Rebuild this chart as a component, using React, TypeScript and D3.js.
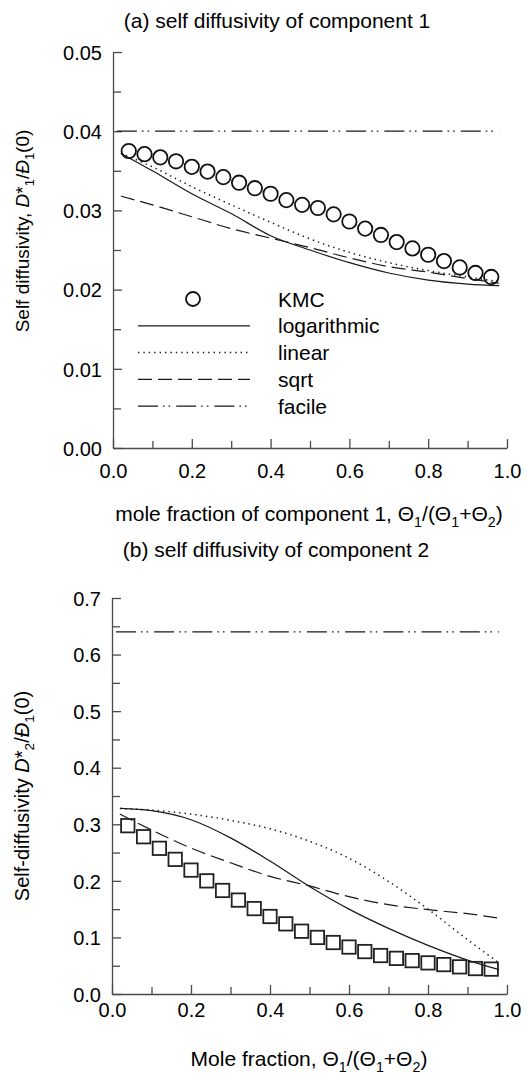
import React, { useRef, useEffect } from 'react'
import { select, scaleLinear, line, curveMonotoneX, axisLeft, axisBottom, format } from 'd3'

// KMC sample positions (mole fraction of component 1)
const kmcX = [0.04, 0.08, 0.12, 0.16, 0.2, 0.24, 0.28, 0.32, 0.36, 0.4, 0.44, 0.48,
  0.52, 0.56, 0.6, 0.64, 0.68, 0.72, 0.76, 0.8, 0.84, 0.88, 0.92, 0.96]
// model curves are read at these x values
const curveX = [0.02, 0.1, 0.2, 0.3, 0.4, 0.5, 0.6, 0.7, 0.8, 0.9, 0.98]
const facileX = [0.01, 0.98]

// (a) component 1
const kmc1 = [0.0375, 0.0371, 0.0367, 0.0362, 0.0355, 0.0349, 0.0342, 0.0335, 0.0328, 0.0321, 0.0313, 0.0307,
  0.0303, 0.0295, 0.0286, 0.0277, 0.0269, 0.0260, 0.0252, 0.0244, 0.0236, 0.0228, 0.0221, 0.0216]
const log1 = [0.0372, 0.0350, 0.0321, 0.0296, 0.0268, 0.0250, 0.0234, 0.0221, 0.0212, 0.0207, 0.0205]
const lin1 = [0.0372, 0.0355, 0.0330, 0.0307, 0.0285, 0.0264, 0.0247, 0.0234, 0.0224, 0.0216, 0.0210]
const sqrt1 = [0.0318, 0.0307, 0.0292, 0.0277, 0.0265, 0.0253, 0.0240, 0.0229, 0.0222, 0.0214, 0.0208]
const facile1 = 0.04

// (b) component 2
const kmc2 = [0.2975, 0.278, 0.2575, 0.238, 0.219, 0.200, 0.183, 0.166, 0.151, 0.137, 0.124, 0.111,
  0.100, 0.091, 0.083, 0.075, 0.068, 0.063, 0.059, 0.055, 0.052, 0.048, 0.045, 0.044]
const log2 = [0.328, 0.324, 0.308, 0.276, 0.235, 0.190, 0.150, 0.116, 0.086, 0.060, 0.043]
const lin2 = [0.328, 0.325, 0.318, 0.307, 0.292, 0.270, 0.240, 0.199, 0.150, 0.096, 0.055]
const sqrt2 = [0.318, 0.290, 0.258, 0.232, 0.208, 0.191, 0.172, 0.158, 0.149, 0.142, 0.134]
const facile2 = 0.64

// ticks
const xMajor = [0, 0.2, 0.4, 0.6, 0.8, 1.0]
const xMinor = [0.1, 0.3, 0.5, 0.7, 0.9]
const yMajor1 = [0, 0.01, 0.02, 0.03, 0.04, 0.05]
const yMinor1 = [0.005, 0.015, 0.025, 0.035, 0.045]
const yMajor2 = [0, 0.1, 0.2, 0.3, 0.4, 0.5, 0.6, 0.7]
const yMinor2 = [0.05, 0.15, 0.25, 0.35, 0.45, 0.55, 0.65]

const legendNames = ['KMC', 'logarithmic', 'linear', 'sqrt', 'facile']

const FONT = "'Liberation Sans', Arial, Helvetica, sans-serif"
const INK = '#1a1a1a'
const AXIS = '#4a4a4a'
const DOT = '1.4,4'
const DASH = '14,6'
const DASHDOT = '20,5,1.6,4,1.6,6'

const App = () => {
  const svgRef = useRef(null)

  useEffect(() => {
    const svg = select(svgRef.current)
    svg.selectAll('*').remove()

    // text with italic / subscript pieces
    const rich = (text, parts, fs) => {
      let shift = 0
      parts.forEach(p => {
        const target = p.sub ? fs * 0.27 : 0
        const ts = text.append('tspan').text(p.t).attr('dy', target - shift)
        shift = target
        if (p.sub) ts.attr('font-size', fs * 0.68)
        if (p.it) ts.attr('font-style', 'italic')
      })
    }

    const panels = [
      {
        x0: 113, x1: 507, yTop: 52, yBot: 448, yMax: 0.05, fmt: '.2f',
        yMajor: yMajor1, yMinor: yMinor1, xPad: 16,
        kmc: kmc1, marker: 'circle', log: log1, lin: lin1, sqrt: sqrt1, facile: facile1,
        title: '(a) self diffusivity of component 1', titleX: 277, titleY: 27.5,
        xlab: [{ t: 'mole fraction of component 1, Θ' }, { t: '1', sub: true }, { t: '/(Θ' }, { t: '1', sub: true }, { t: '+Θ' }, { t: '2', sub: true }, { t: ')' }],
        xlabY: 521,
        ylab: [{ t: 'Self diffusivity, ' }, { t: 'D', it: true }, { t: '*' }, { t: '1', sub: true }, { t: '/' }, { t: 'Ð', it: true }, { t: '1', sub: true }, { t: '(0)' }],
        ylabY: 231, ylabFs: 19,
        legend: true
      },
      {
        x0: 112, x1: 507, yTop: 598, yBot: 994, yMax: 0.7, fmt: '.1f',
        yMajor: yMajor2, yMinor: yMinor2, xPad: 9,
        kmc: kmc2, marker: 'square', log: log2, lin: lin2, sqrt: sqrt2, facile: facile2,
        title: '(b) self diffusivity of component 2', titleX: 276, titleY: 557,
        xlab: [{ t: 'Mole fraction, Θ' }, { t: '1', sub: true }, { t: '/(Θ' }, { t: '1', sub: true }, { t: '+Θ' }, { t: '2', sub: true }, { t: ')' }],
        xlabY: 1066,
        ylab: [{ t: 'Self-diffusivity ' }, { t: 'D', it: true }, { t: '*' }, { t: '2', sub: true }, { t: '/' }, { t: 'Ð', it: true }, { t: '1', sub: true }, { t: '(0)' }],
        ylabY: 796, ylabFs: 20,
        legend: false
      }
    ]

    panels.forEach(p => {
      const xScale = scaleLinear().domain([0, 1]).range([p.x0, p.x1])
      const yScale = scaleLinear().domain([0, p.yMax]).range([p.yBot, p.yTop])
      const g = svg.append('g')

      // axes, ticks pointing inward
      const yAx = g.append('g').attr('transform', `translate(${p.x0},0)`)
      yAx.call(axisLeft(yScale).tickValues(p.yMajor).tickSize(-9).tickSizeOuter(0).tickPadding(11).tickFormat(format(p.fmt)))
      const yMin = g.append('g').attr('transform', `translate(${p.x0},0)`)
      yMin.call(axisLeft(yScale).tickValues(p.yMinor).tickSize(-8).tickSizeOuter(0).tickFormat(() => ''))
      yMin.select('.domain').remove()

      const xAx = g.append('g').attr('transform', `translate(0,${p.yBot})`)
      xAx.call(axisBottom(xScale).tickValues(xMajor).tickSize(-9).tickSizeOuter(0).tickPadding(p.xPad).tickFormat(format('.1f')))
      const xMin = g.append('g').attr('transform', `translate(0,${p.yBot})`)
      xMin.call(axisBottom(xScale).tickValues(xMinor).tickSize(-7).tickSizeOuter(0).tickFormat(() => ''))
      xMin.select('.domain').remove()

      g.selectAll('.domain').attr('stroke', AXIS).attr('stroke-width', 1.3)
      g.selectAll('.tick line').attr('stroke', AXIS).attr('stroke-width', 1.3)
      g.selectAll('.tick text').attr('fill', '#000').attr('font-size', 20).attr('font-family', FONT)
      yAx.selectAll('.tick text').attr('dy', '0.36em')

      // model curves
      const curve = line()
        .x((d, i) => xScale(curveX[i]))
        .y(d => yScale(d))
        .curve(curveMonotoneX)

      const series = [
        { v: p.log, dash: null, w: 1.2 },
        { v: p.lin, dash: DOT, w: 1.5 },
        { v: p.sqrt, dash: DASH, w: 1.2 }
      ]
      series.forEach(s => {
        g.append('path')
          .attr('d', curve(s.v))
          .attr('fill', 'none')
          .attr('stroke', INK)
          .attr('stroke-width', s.w)
          .attr('stroke-dasharray', s.dash)
      })

      g.append('line')
        .attr('x1', xScale(facileX[0])).attr('x2', xScale(facileX[1]))
        .attr('y1', yScale(p.facile)).attr('y2', yScale(p.facile))
        .attr('stroke', INK).attr('stroke-width', 1.2)
        .attr('stroke-dasharray', DASHDOT)

      // KMC markers
      if (p.marker === 'circle') {
        g.selectAll('.kmc').data(p.kmc).join('circle')
          .attr('class', 'kmc')
          .attr('cx', (d, i) => xScale(kmcX[i]))
          .attr('cy', d => yScale(d))
          .attr('r', 7.2)
          .attr('fill', 'none')
          .attr('stroke', '#111')
          .attr('stroke-width', 1.8)
      } else {
        g.selectAll('.kmc').data(p.kmc).join('rect')
          .attr('class', 'kmc')
          .attr('x', (d, i) => xScale(kmcX[i]) - 6.7)
          .attr('y', d => yScale(d) - 6.7)
          .attr('width', 13.4)
          .attr('height', 13.4)
          .attr('fill', 'none')
          .attr('stroke', '#222')
          .attr('stroke-width', 1.8)
      }

      // legend
      if (p.legend) {
        const styles = [null, { dash: null, w: 1.2 }, { dash: DOT, w: 1.5 }, { dash: DASH, w: 1.2 }, { dash: DASHDOT, w: 1.2 }]
        legendNames.forEach((name, i) => {
          const ly = 299 + i * 26.8
          if (i === 0) {
            g.append('circle').attr('cx', 193).attr('cy', ly).attr('r', 7)
              .attr('fill', 'none').attr('stroke', '#111').attr('stroke-width', 1.8)
          } else {
            g.append('line').attr('x1', 138).attr('x2', 250).attr('y1', ly).attr('y2', ly)
              .attr('stroke', INK).attr('stroke-width', styles[i].w)
              .attr('stroke-dasharray', styles[i].dash)
          }
          g.append('text').attr('x', 278).attr('y', ly + 7.5)
            .attr('font-size', 21).attr('font-family', FONT).text(name)
        })
      }

      // titles and axis labels
      g.append('text').attr('x', p.titleX).attr('y', p.titleY)
        .attr('text-anchor', 'middle').attr('font-size', 21).attr('font-family', FONT)
        .text(p.title)

      const xl = g.append('text').attr('x', 309).attr('y', p.xlabY)
        .attr('text-anchor', 'middle').attr('font-size', 21).attr('font-family', FONT)
      rich(xl, p.xlab, 21)

      const yl = g.append('text')
        .attr('transform', `translate(29,${p.ylabY}) rotate(-90)`)
        .attr('text-anchor', 'middle').attr('font-size', p.ylabFs).attr('font-family', FONT)
      rich(yl, p.ylab, p.ylabFs)
    })
  }, [])

  return (
    <svg ref={svgRef} width={527} height={1078}
      style={{ position: 'absolute', left: 0, top: 0, background: '#fff' }} />
  )
}

export default App
